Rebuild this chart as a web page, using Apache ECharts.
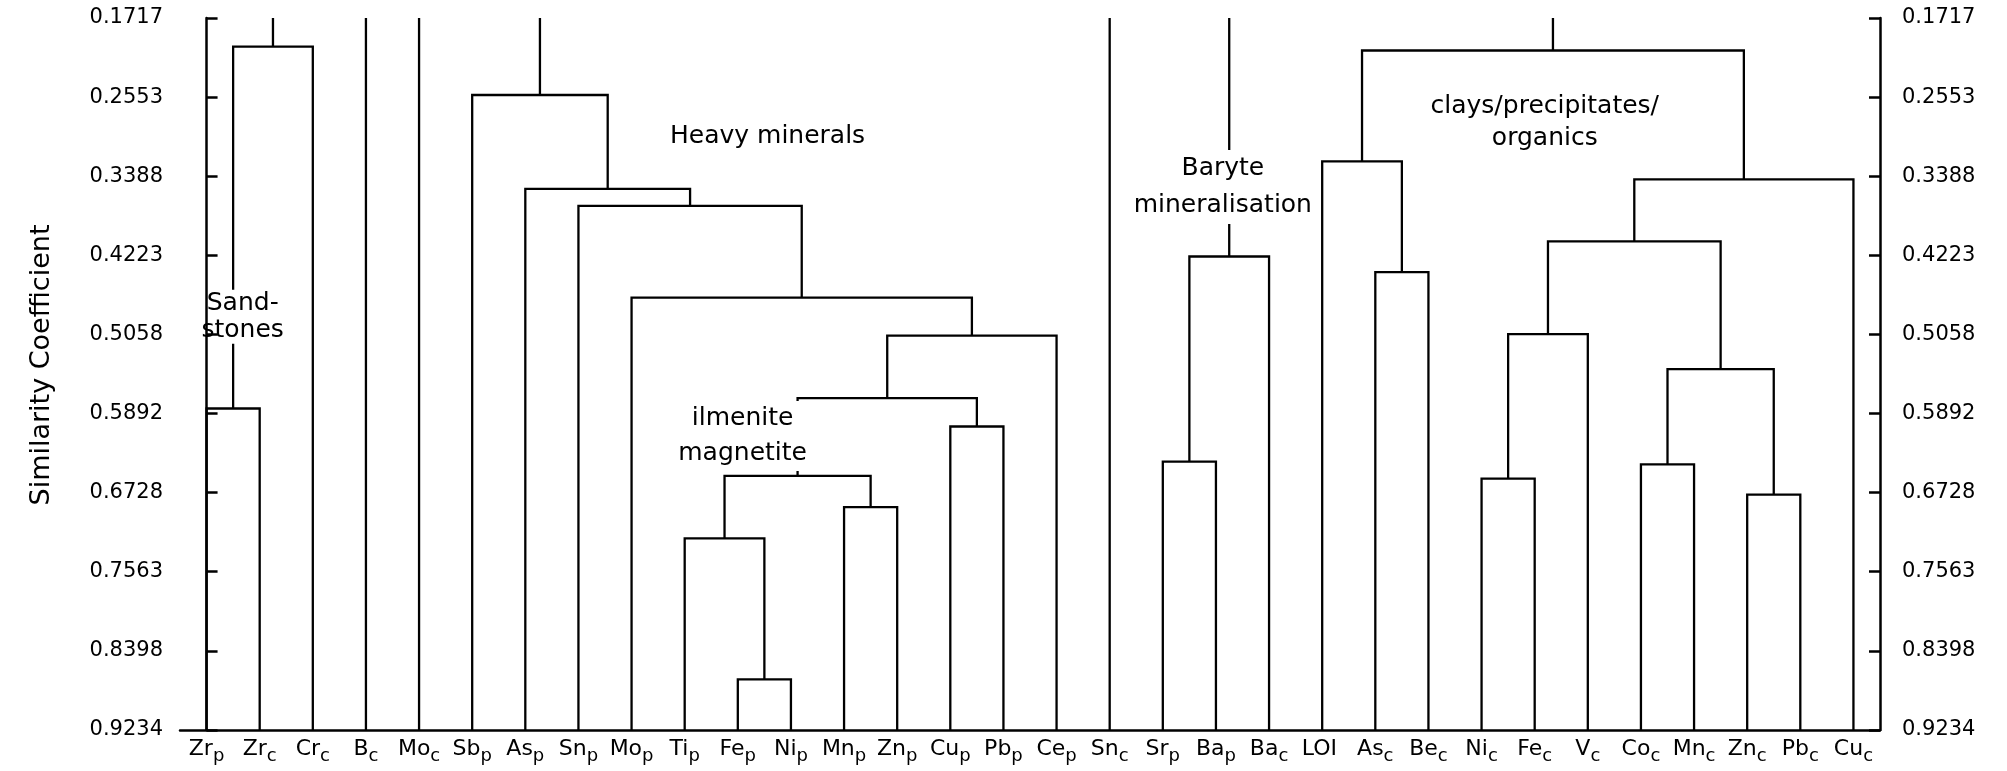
<!DOCTYPE html>
<html>
<head>
<meta charset="utf-8">
<script src="https://cdn.jsdelivr.net/npm/echarts@6/dist/echarts.min.js"></script>
<style>
  html, body { margin: 0; padding: 0; background: #fff; }
  #main { width: 2007px; height: 771px; }
</style>
</head>
<body>
<div id="main"></div>
<script>
// leaves of the dendrogram, left to right (element + subscript)
const leafNames = ['Zr','Zr','Cr','B','Mo','Sb','As','Sn','Mo','Ti','Fe','Ni','Mn','Zn','Cu','Pb','Ce',
                   'Sn','Sr','Ba','Ba','LOI','As','Be','Ni','Fe','V','Co','Mn','Zn','Pb','Cu'];
const leafSubs  = ['p','c','c','c','c','p','p','p','p','p','p','p','p','p','p','p','p',
                   'c','p','p','c','','c','c','c','c','c','c','c','c','c','c'];

// merges: indices < 32 are leaves, 32+ are the merged nodes in this order
const mergePairs = [
  [0, 1], [32, 2],                                   // 32, 33  sandstones
  [10, 11], [9, 34], [12, 13], [35, 36], [14, 15],   // 34..38
  [37, 38], [39, 16], [8, 40], [7, 41], [6, 42], [5, 43], // 39..44 heavy minerals
  [18, 19], [45, 20],                                // 45, 46  baryte
  [22, 23], [21, 47], [24, 25], [49, 26], [27, 28],  // 47..51
  [29, 30], [51, 52], [50, 53], [54, 31], [48, 55]   // 52..56 clays
];
const mergeHeights = [
  0.584, 0.202,
  0.870, 0.721, 0.688, 0.655, 0.603,
  0.573, 0.507, 0.467, 0.370, 0.352, 0.253,
  0.640, 0.4235,
  0.440, 0.323, 0.658, 0.5055, 0.643,
  0.675, 0.5425, 0.4075, 0.342, 0.206
];
// clusters whose stem runs up to the top of the scale
const rootNodes = [33, 3, 4, 44, 17, 46, 56];

const yTickValues = [0.1717, 0.2553, 0.3388, 0.4223, 0.5058, 0.5892, 0.6728, 0.7563, 0.8398, 0.9234];
const yTop = 0.1717, yBottom = 0.9234;

// group annotations
const noteTexts = ['Sand-\nstones', 'Heavy minerals', 'Baryte\nmineralisation', 'ilmenite\nmagnetite', 'clays/precipitates/\norganics'];
const noteX = [0.68, 10.56, 19.13, 10.09, 25.19];
const noteY = [0.487, 0.2973, 0.3500, 0.6130, 0.2815];
const noteLineHeight = [27, 30, 37, 35, 32];

// build the U-shaped links
const nodeX = leafNames.map((_, i) => i);
const nodeH = leafNames.map(() => yBottom);
const links = [];
mergePairs.forEach(([a, b], k) => {
  const h = mergeHeights[k];
  links.push({ coords: [[nodeX[a], nodeH[a]], [nodeX[a], h], [nodeX[b], h], [nodeX[b], nodeH[b]]] });
  nodeX.push((nodeX[a] + nodeX[b]) / 2);
  nodeH.push(h);
});
rootNodes.forEach(n => {
  links.push({ coords: [[nodeX[n], nodeH[n]], [nodeX[n], yTop]] });
});

const ink = '#000';
const font = 'DejaVu Sans';

const yAxisBase = {
  type: 'value',
  z: 10,
  inverse: true,
  min: yTop,
  max: yBottom,
  splitLine: { show: false },
  axisLine: { show: true, lineStyle: { color: ink, width: 2.5 } },
  axisTick: { show: true, inside: true, length: 11, customValues: yTickValues, lineStyle: { color: ink, width: 2.5 } },
  axisLabel: {
    customValues: yTickValues,
    formatter: v => v.toFixed(4),
    color: ink, fontSize: 21, fontFamily: font
  }
};

let myChart = echarts.init(document.getElementById('main'));
myChart.setOption({
  animation: false,
  backgroundColor: '#fff',
  grid: { left: 180, right: 127, top: 18, bottom: 41 },
  xAxis: [
    {
      type: 'category',
      z: 10,
      data: leafNames.map((n, i) => n + '_' + leafSubs[i]),
      boundaryGap: true,
      axisLine: { show: true, lineStyle: { color: ink, width: 2.5 } },
      axisTick: { show: false },
      axisLabel: {
        interval: 0,
        margin: 4,
        formatter: (v, i) => '{m|' + leafNames[i] + '}{s|' + (leafSubs[i] || ' ') + '}',
        rich: {
          m: { fontSize: 22, fontFamily: font, color: ink },
          s: { fontSize: 18, fontFamily: font, color: ink, padding: [13, 0, 0, 0] }
        }
      }
    },
    { type: 'value', min: -0.5, max: 31.5, show: false }
  ],
  yAxis: [
    Object.assign({}, yAxisBase, {
      position: 'left',
      axisLabel: Object.assign({}, yAxisBase.axisLabel, { margin: 17 }),
      name: 'Similarity Coefficient',
      nameLocation: 'middle',
      nameGap: 125,
      nameTextStyle: { color: ink, fontSize: 27, fontFamily: font, padding: [0, 0, 0, 18] }
    }),
    Object.assign({}, yAxisBase, {
      position: 'right',
      axisLabel: Object.assign({}, yAxisBase.axisLabel, { margin: 22 })
    })
  ],
  series: [
    {
      type: 'lines',
      coordinateSystem: 'cartesian2d',
      xAxisIndex: 1,
      yAxisIndex: 0,
      z: 2,
      polyline: true,
      silent: true,
      lineStyle: { color: ink, width: 2.3, opacity: 1 },
      data: links
    },
    {
      type: 'scatter',
      xAxisIndex: 1,
      yAxisIndex: 0,
      z: 5,
      silent: true,
      symbolSize: 1,
      itemStyle: { color: 'rgba(0,0,0,0)', opacity: 1 },
      label: {
        show: true,
        position: 'inside',
        formatter: '{b}',
        color: ink,
        opacity: 1,
        textBorderWidth: 0,
        fontSize: 25,
        fontFamily: font,
        align: 'center',
        backgroundColor: '#fff',
        padding: [0, 2]
      },
      data: noteTexts.map((t, i) => ({
        name: t,
        value: [noteX[i], noteY[i]],
        label: { lineHeight: noteLineHeight[i] }
      }))
    }
  ]
});
</script>
</body>
</html>
